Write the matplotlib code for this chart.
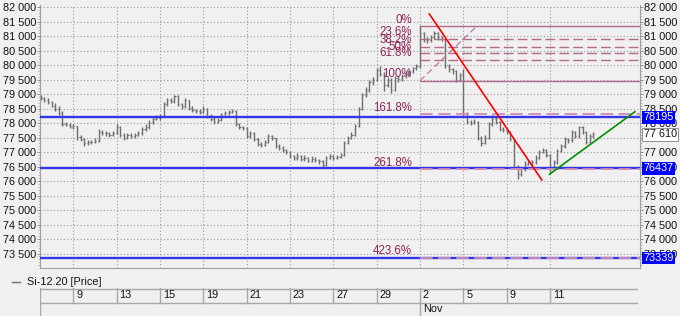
import numpy as np
import matplotlib
matplotlib.use('Agg')
import matplotlib.pyplot as plt
import matplotlib.transforms as mtransforms

plt.rcParams['font.family'] = ['Liberation Sans', 'DejaVu Sans']

# ---- data (Si-12.20, 6 bars per trading day, first bar 1.5 days before Oct 9) ----
closes = [78850, 78800, 78720, 78600, 78500, 78350, 77980, 77940, 77900, 77880,
          77520, 77450, 77300, 77330, 77350, 77380, 77700, 77650, 77640, 77600,
          77650, 77860, 77600, 77500, 77580, 77550, 77580, 77650, 77780, 77850,
          78020, 78150, 78180, 78250, 78650, 78780, 78760, 78930, 78650, 78580,
          78780, 78520, 78450, 78400, 78380, 78500, 78250, 78150, 78020, 78100,
          78300, 78350, 78370, 78430, 77950, 77850, 77820, 77550, 77650, 77450,
          77280, 77250, 77350, 77560, 77480, 77220, 77150, 77080, 77000, 76850,
          76800, 76860, 76760, 76800, 76700, 76760, 76720, 76680, 76560, 76800,
          76850, 76800, 76830, 76900, 77320, 77500, 77600, 77900, 78500, 78950,
          79150, 79400, 79500, 79820, 79700, 79300, 79500, 79150, 79550, 79520,
          79620, 79700, 79780, 79880, 79950, 81100, 80900, 80850, 80950, 81100,
          80950, 80900, 79950, 79850, 79780, 79500, 79650, 78300, 78050, 78000,
          78050, 77500, 77300, 77500, 77950, 78150, 78050, 77800, 77750, 77700,
          77450, 76500, 76250, 76400, 76600, 76680, 76650, 76800, 77000, 77080,
          76900, 76500, 76650, 77050, 77200, 77450, 77400, 77700, 77550, 77850,
          77700, 77350, 77550, 77610]
highs = [78950, 78900, 78850, 78760, 78680, 78600, 78400, 78050, 78000, 77950,
         77900, 77600, 77500, 77400, 77420, 77480, 77780, 77760, 77720, 77700,
         77720, 77980, 77900, 77640, 77650, 77640, 77660, 77720, 77850, 77950,
         78100, 78220, 78260, 78300, 78720, 78850, 78860, 78980, 78960, 78700,
         78850, 78800, 78580, 78500, 78470, 78580, 78520, 78300, 78200, 78180,
         78360, 78420, 78440, 78480, 78450, 78000, 77900, 77850, 77720, 77680,
         77500, 77350, 77420, 77620, 77600, 77500, 77260, 77200, 77120, 77050,
         76900, 76950, 76900, 76880, 76840, 76850, 76820, 76760, 76720, 76860,
         76930, 76900, 76900, 76980, 77380, 77560, 77680, 77960, 78560, 79020,
         79250, 79480, 79600, 79900, 79950, 79750, 79580, 79550, 79620, 79620,
         79700, 79780, 79850, 79940, 80020, 81345, 81150, 80980, 81050, 81160,
         81140, 81000, 80920, 80020, 79900, 79820, 79720, 79850, 78380, 78120,
         78130, 78080, 77560, 77580, 78020, 78280, 78200, 78080, 77860, 77800,
         77720, 77480, 76550, 76480, 76680, 76760, 76740, 76880, 77080, 77150,
         77120, 76940, 76720, 77120, 77280, 77520, 77500, 77760, 77740, 77880,
         77900, 77740, 77620, 77680]
lows = [78780, 78720, 78650, 78540, 78420, 78280, 77900, 77880, 77830, 77800,
        77400, 77380, 77220, 77250, 77280, 77300, 77350, 77580, 77560, 77520,
        77560, 77620, 77520, 77400, 77450, 77480, 77500, 77540, 77600, 77720,
        77800, 77980, 78100, 78120, 78200, 78580, 78680, 78700, 78580, 78500,
        78530, 78450, 78370, 78330, 78320, 78340, 78180, 78080, 77980, 77990,
        78060, 78260, 78280, 78330, 77880, 77780, 77750, 77480, 77500, 77380,
        77200, 77180, 77200, 77320, 77400, 77150, 77080, 77000, 76920, 76780,
        76720, 76740, 76680, 76700, 76640, 76660, 76650, 76600, 76480, 76520,
        76760, 76720, 76750, 76800, 76860, 77260, 77450, 77560, 77850, 78450,
        78880, 79080, 79320, 79450, 79620, 79100, 79250, 79020, 79100, 79420,
        79450, 79560, 79640, 79720, 79820, 79900, 80780, 80760, 80800, 80880,
        80870, 80820, 79880, 79760, 79700, 79420, 79460, 78200, 77980, 77920,
        77950, 77420, 77220, 77260, 77460, 77900, 77980, 77720, 77680, 77620,
        77380, 76420, 76080, 76180, 76350, 76560, 76560, 76600, 76750, 76950,
        76820, 76300, 76420, 76600, 77000, 77150, 77320, 77350, 77480, 77500,
        77620, 77280, 77300, 77500]
first_day = -1.5
bars_per_day = 6

tick_days = [0, 2, 4, 6, 8, 10, 12, 14, 16, 18, 20, 22]
day_labels = ['9', '13', '15', '19', '21', '23', '27', '29', '2', '5', '9', '11']
month_day = 16
month_label = 'Nov'

levels_blue = [78195, 76437, 73339]
last_price = 77610

fib_high = 81345
fib_low = 79460
fib_ratios = [0, 0.236, 0.382, 0.5, 0.618, 1.0, 1.618, 2.618, 4.236]
fib_labels = ['0%', '23.6%', '38.2%', '50%', '61.8%', '100%', '161.8%', '261.8%', '423.6%']
fib_start = 16.0
fib_diag = ([16.0, 18.63], [79460, 81345])

red_line = ([16.43, 21.62], [81759, 76034])
green_line = ([21.97, 25.92], [76231, 78390])

# ---- figure ----
bg = '#f0f0f0'
W, H = 680, 316
fs = 7.8
fig = plt.figure(figsize=(W / 100, H / 100), dpi=100, facecolor=bg)
ax = fig.add_axes([40 / W, 48 / H, 600 / W, 263 / H], facecolor=bg)
xmin, xmax = -1.537, 26.15
ymin, ymax = 73000, 82069
ax.set_xlim(xmin, xmax)
ax.set_ylim(ymin, ymax)

yt = np.arange(73500, 82001, 500)
fmt = lambda v: f"{int(v):,}".replace(',', ' ')
grid_kw = dict(color='#9a9a9a', lw=0.8, linestyle=(0, (1, 2)), zorder=0)
for v in yt:
    ax.axhline(v, **grid_kw)
for d in tick_days:
    ax.axvline(d, **grid_kw)

# OHLC bars
xs = first_day + np.arange(len(closes)) / bars_per_day
opens = [closes[0] + 50] + closes[:-1]
tw = 0.05
ax.vlines(xs, lows, highs, color='#6e6e6e', lw=1.0, zorder=2)
ax.hlines(opens, xs - tw, xs, color='#6e6e6e', lw=0.9, zorder=2)
ax.hlines(closes, xs, xs + tw, color='#6e6e6e', lw=0.9, zorder=2)

# fibonacci
fib_rng = fib_high - fib_low
fib_txt = '#8c2459'
for r, lab in zip(fib_ratios, fib_labels):
    lv = fib_high - r * fib_rng
    if r in (0, 1.0):
        ax.plot([fib_start, xmax], [lv, lv], color='#b36a90', lw=1.0, zorder=3)
    elif r < 1:
        ax.plot([fib_start, xmax], [lv, lv], color='#b36a90', lw=1.0,
                dashes=(7, 3), zorder=3)
    else:
        ax.plot([fib_start, xmax], [lv, lv], color='#d08cb0', lw=1.3,
                dashes=(7, 3), zorder=4)
    ax.text(fib_start - 0.37, lv + 15, lab, color=fib_txt, fontsize=8.3,
            ha='right', va='bottom', zorder=5)
ax.plot(fib_diag[0], fib_diag[1], color='#c07898', lw=0.9, dashes=(5, 3), zorder=3)

# horizontal levels
for lv in levels_blue:
    ax.axhline(lv, color='#3434e8', lw=1.7, zorder=3)

ax.plot(red_line[0], red_line[1], color='#ff0000', lw=1.2, zorder=4)
ax.plot(green_line[0], green_line[1], color='#009000', lw=1.2, zorder=4)

# axes styling
ax.spines['top'].set_visible(False)
for s in ['left', 'right', 'bottom']:
    ax.spines[s].set_color('#a0a0a0')
    ax.spines[s].set_linewidth(0.8)
ax.set_xticks([])
ax.set_yticks(yt)
ax.set_yticklabels([fmt(v) for v in yt])
ax.set_yticks(np.arange(73100, 82001, 100), minor=True)
ax.tick_params(axis='y', which='major', length=2, width=0.6, color='#808080',
               labelsize=fs, pad=0.8, labelcolor='#111111')
ax.tick_params(axis='y', which='minor', length=1.2, width=0.5, color='#a0a0a0')

axr = ax.twinx()
axr.set_ylim(ymin, ymax)
axr.set_yticks(yt)
axr.set_yticklabels([fmt(v) for v in yt])
axr.set_yticks(np.arange(73100, 82001, 100), minor=True)
axr.tick_params(axis='y', which='major', length=2, width=0.6, color='#808080',
                labelsize=fs, pad=0.8, labelcolor='#111111')
axr.tick_params(axis='y', which='minor', length=1.2, width=0.5, color='#a0a0a0')
for s in axr.spines.values():
    s.set_visible(False)

trans = mtransforms.blended_transform_factory(axr.transAxes, axr.transData)
for lv in levels_blue:
    axr.text(1.006, lv, str(lv), transform=trans, ha='left', va='center',
             fontsize=fs, color='white', zorder=10, clip_on=False,
             bbox=dict(boxstyle='square,pad=0.12', facecolor='#0000ff', edgecolor='none'))
axr.text(1.006, last_price, fmt(last_price), transform=trans, ha='left', va='center',
         fontsize=fs, color='#111111', zorder=10, clip_on=False,
         bbox=dict(boxstyle='square,pad=0.15', facecolor='white', edgecolor='#909090', lw=0.7))

# legend
fig.lines.append(plt.Line2D([12 / W, 20 / W], [1 - 282 / H, 1 - 282 / H],
                            transform=fig.transFigure, color='#707070', lw=1))
fig.text(27 / W, 1 - 282 / H, 'Si-12.20 [Price]', fontsize=fs, va='center',
         ha='left', color='#111111')

# date box
axd = fig.add_axes([40 / W, 0, 598 / W, 28 / H], facecolor=bg)
axd.set_xlim(xmin, xmax * 598 / 600 + xmin * 2 / 600)
axd.set_ylim(0, 28)
axd.axis('off')
lc = '#a8a8a8'
axd.axhline(27.5, color=lc, lw=1)
axd.axhline(13, color=lc, lw=1)
axd.axvline(xmin, color=lc, lw=1)
for d, lab in zip(tick_days, day_labels):
    axd.plot([d, d], [13, 28], color=lc, lw=1)
    axd.annotate(lab, (d, 20.5), xytext=(2, 0), textcoords='offset points',
                 fontsize=fs, va='center', ha='left', color='#111111')
axd.plot([month_day, month_day], [0, 13], color=lc, lw=1)
axd.annotate(month_label, (month_day, 6.5), xytext=(2, 0), textcoords='offset points',
             fontsize=fs, va='center', ha='left', color='#111111')

plt.savefig('out.png', dpi=100, facecolor=bg)
